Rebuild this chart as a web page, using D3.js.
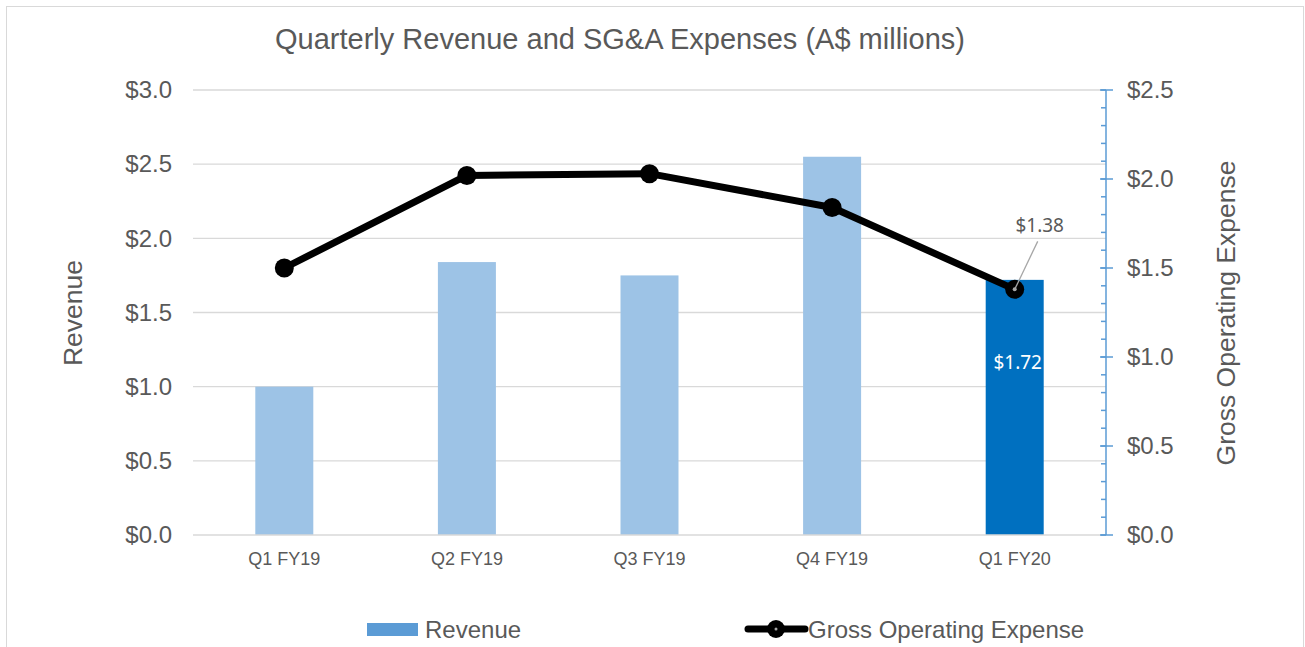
<!DOCTYPE html>
<html>
  <head>
    <title>Quarterly Revenue and SG&amp;A</title>
    <script src="https://d3js.org/d3.v7.min.js"></script>
    <style>
      body { margin: 0; background: #fff; }
      text { font-family: Arial, "Liberation Sans", sans-serif; fill: #595959; }
    </style>
  </head>
  <body>
    <svg width="1305" height="647"></svg>
    <script>
      const quarters = ["Q1 FY19", "Q2 FY19", "Q3 FY19", "Q4 FY19", "Q1 FY20"];
      const revenue = [1.00, 1.84, 1.75, 2.55, 1.72];
      const grossOpex = [1.50, 2.02, 2.03, 1.84, 1.38];
      const leftTicks = [0, 0.5, 1.0, 1.5, 2.0, 2.5, 3.0];
      const rightTicks = [0, 0.5, 1.0, 1.5, 2.0, 2.5];

      const svg = d3.select("svg");
      const plotLeft = 193, plotRight = 1106, plotTop = 90, plotBottom = 535;

      // frame
      svg.append("rect")
        .attr("x", 6.5).attr("y", 6.5)
        .attr("width", 1297).attr("height", 660)
        .attr("fill", "none").attr("stroke", "#d9d9d9");

      const x = d3.scaleBand().domain(quarters).range([plotLeft, plotRight]);
      const yL = d3.scaleLinear().domain([0, 3]).range([plotBottom, plotTop]);
      const yR = d3.scaleLinear().domain([0, 2.5]).range([plotBottom, plotTop]);

      // gridlines
      svg.append("g").selectAll("line").data(leftTicks.slice(1)).join("line")
        .attr("x1", plotLeft).attr("x2", plotRight)
        .attr("y1", d => yL(d)).attr("y2", d => yL(d))
        .attr("stroke", "#d9d9d9").attr("stroke-width", 1.3);

      // left axis labels
      const gl = svg.append("g")
        .attr("transform", `translate(${plotLeft},0)`)
        .call(d3.axisLeft(yL).tickValues(leftTicks).tickFormat(d => "$" + d3.format(".1f")(d)).tickSize(0).tickPadding(21));
      gl.select(".domain").remove();
      gl.selectAll("text").style("font-size", "24px").attr("fill", "#595959").style("font-family", "Arial, 'Liberation Sans', sans-serif");

      // bars
      const bw = 58;
      svg.append("g").selectAll("rect").data(revenue).join("rect")
        .attr("x", (d, i) => x(quarters[i]) + x.bandwidth() / 2 - bw / 2)
        .attr("width", bw)
        .attr("y", d => yL(d))
        .attr("height", d => yL(0) - yL(d))
        .attr("fill", (d, i) => i === quarters.length - 1 ? "#0070c0" : "#9dc3e6");

      // bottom axis
      svg.append("line")
        .attr("x1", plotLeft).attr("x2", plotRight)
        .attr("y1", plotBottom).attr("y2", plotBottom)
        .attr("stroke", "#d9d9d9").attr("stroke-width", 1.3);
      svg.append("g").selectAll("text").data(quarters).join("text")
        .attr("x", d => x(d) + x.bandwidth() / 2)
        .attr("y", 565)
        .attr("text-anchor", "middle")
        .style("font-size", "18px")
        .text(d => d);

      // right axis
      const gr = svg.append("g").attr("transform", `translate(${plotRight},0)`);
      gr.append("line").attr("y1", plotTop).attr("y2", plotBottom).attr("stroke", "#5b9bd5").attr("stroke-width", 1.5);
      const minor = d3.range(0, 26).map(i => i / 10);
      gr.selectAll(".minor").data(minor).join("line")
        .attr("class", "minor")
        .attr("x1", -5).attr("x2", 0)
        .attr("y1", d => yR(d)).attr("y2", d => yR(d))
        .attr("stroke", "#5b9bd5").attr("stroke-width", 1.5);
      gr.selectAll(".major").data(rightTicks).join("line")
        .attr("class", "major")
        .attr("x1", -6).attr("x2", 7)
        .attr("y1", d => yR(d)).attr("y2", d => yR(d))
        .attr("stroke", "#5b9bd5").attr("stroke-width", 1.5);
      gr.selectAll("text").data(rightTicks).join("text")
        .attr("x", 21).attr("y", d => yR(d)).attr("dy", "0.35em")
        .style("font-size", "24px")
        .text(d => "$" + d3.format(".1f")(d));

      // line series
      const cx = i => x(quarters[i]) + x.bandwidth() / 2;
      const line = d3.line().x((d, i) => cx(i)).y(d => yR(d));
      svg.append("path").datum(grossOpex)
        .attr("d", line).attr("fill", "none")
        .attr("stroke", "#000").attr("stroke-width", 7).attr("stroke-linejoin", "round");
      svg.append("g").selectAll("circle").data(grossOpex).join("circle")
        .attr("cx", (d, i) => cx(i)).attr("cy", d => yR(d))
        .attr("r", 9.5).attr("fill", "#000");

      // data labels
      const last = quarters.length - 1;
      svg.append("line")
        .attr("x1", cx(last)).attr("y1", yR(grossOpex[last]))
        .attr("x2", cx(last) + 23).attr("y2", yR(grossOpex[last]) - 48)
        .attr("stroke", "#a6a6a6").attr("stroke-width", 1.3);
      svg.append("circle")
        .attr("cx", cx(last)).attr("cy", yR(grossOpex[last]))
        .attr("r", 2).attr("fill", "#a6a6a6");
      svg.append("text")
        .attr("x", cx(last) + 25).attr("y", yR(grossOpex[last]) - 57)
        .attr("text-anchor", "middle")
        .style("font-family", "'Noto Sans', 'DejaVu Sans', sans-serif")
        .style("font-size", "19px")
        .text("$" + d3.format(".2f")(grossOpex[last]));
      svg.append("text")
        .attr("x", cx(last) + 3).attr("y", 369)
        .attr("text-anchor", "middle")
        .style("font-family", "'Noto Sans', 'DejaVu Sans', sans-serif")
        .style("font-size", "19px")
        .style("fill", "#fff")
        .text("$" + d3.format(".2f")(revenue[last]));

      // titles
      svg.append("text")
        .attr("x", 620).attr("y", 49)
        .attr("text-anchor", "middle")
        .style("font-size", "29px")
        .text("Quarterly Revenue and SG&A Expenses (A$ millions)");
      svg.append("text")
        .attr("transform", "translate(82,313) rotate(-90)")
        .attr("text-anchor", "middle")
        .style("font-size", "26.5px")
        .text("Revenue");
      svg.append("text")
        .attr("transform", "translate(1235,313) rotate(-90)")
        .attr("text-anchor", "middle")
        .style("font-size", "26.5px")
        .text("Gross Operating Expense");

      // legend
      const lg = svg.append("g");
      lg.append("rect").attr("x", 367).attr("y", 623).attr("width", 51).attr("height", 13).attr("fill", "#5b9bd5");
      lg.append("text").attr("x", 425).attr("y", 630).attr("dy", "0.35em").style("font-size", "24px").text("Revenue");
      lg.append("line").attr("x1", 748).attr("x2", 805).attr("y1", 629).attr("y2", 629)
        .attr("stroke", "#000").attr("stroke-width", 7).attr("stroke-linecap", "round");
      lg.append("circle").attr("cx", 776).attr("cy", 629).attr("r", 9).attr("fill", "#000");
      lg.append("circle").attr("cx", 776).attr("cy", 629).attr("r", 1.5).attr("fill", "#a6a6a6");
      lg.append("text").attr("x", 808).attr("y", 630).attr("dy", "0.35em").style("font-size", "24px").text("Gross Operating Expense");
    </script>
  </body>
</html>
